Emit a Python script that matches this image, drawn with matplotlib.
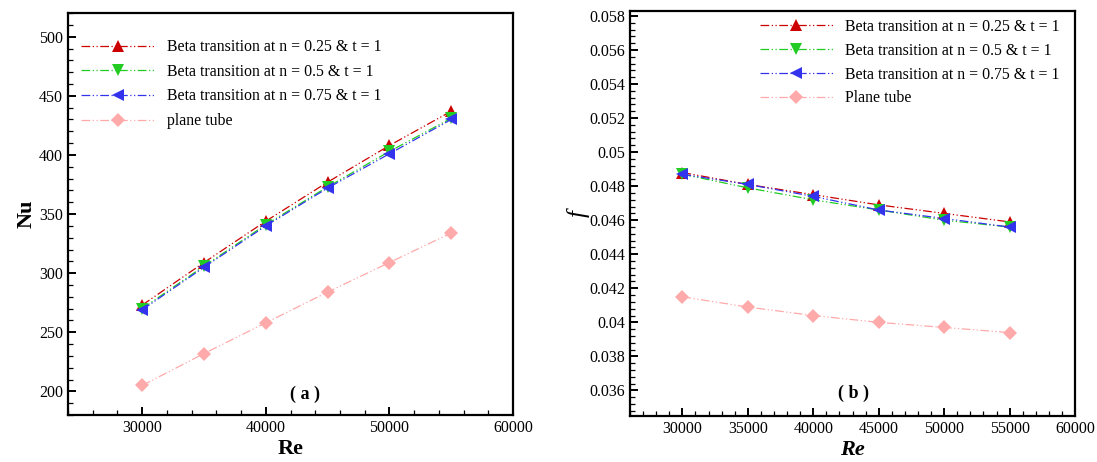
import numpy as np
import matplotlib
matplotlib.use("Agg")
import matplotlib.pyplot as plt
from matplotlib.ticker import MultipleLocator, FuncFormatter

plt.rcParams["font.family"] = ["Liberation Serif", "DejaVu Serif"]

re_vals = [30000, 35000, 40000, 45000, 50000, 55000]

# (a) Nusselt number
nu_n025 = [273, 309, 344, 377, 408, 437]
nu_n05 = [270, 306, 341, 373, 403, 431]
nu_n075 = [269, 305, 340, 372, 401, 430]
nu_plane = [205, 232, 258, 284, 309, 334]

# (b) friction factor
f_n025 = [0.0488, 0.0481, 0.0475, 0.0469, 0.0464, 0.0459]
f_n05 = [0.0487, 0.0479, 0.0472, 0.0466, 0.0460, 0.0456]
f_n075 = [0.0487, 0.0481, 0.0474, 0.0466, 0.0461, 0.0456]
f_plane = [0.0415, 0.0409, 0.0404, 0.0400, 0.0397, 0.0394]

labels_a = ["Beta transition at n = 0.25 & t = 1",
            "Beta transition at n = 0.5 & t = 1",
            "Beta transition at n = 0.75 & t = 1",
            "plane tube"]
labels_b = labels_a[:3] + ["Plane tube"]

colors = ["#cc0000", "#22cc22", "#3333ee", "#ffaaaa"]
markers = ["^", "v", "<", "D"]
msizes = [8.5, 8.5, 8.5, 7]
ls = (0, (7, 2, 1, 2, 1, 2))

fig = plt.figure(figsize=(10.97, 4.62), dpi=100)
ax1 = fig.add_axes([0.062, 0.1017, 0.4057, 0.870])
ax2 = fig.add_axes([0.5743, 0.0996, 0.4057, 0.877])


def style(ax):
    for s in ax.spines.values():
        s.set_linewidth(1.6)
    ax.tick_params(which="both", direction="in", top=False, right=False,
                   labelsize=11.5)
    ax.tick_params(which="major", length=6, width=1.4)
    ax.tick_params(which="minor", length=3.5, width=0.9)


leg_kw = dict(loc="upper left", frameon=False, fontsize=11.4, handlelength=4.6,
              borderpad=0, handletextpad=0.8)

for ys, c, m, ms, lab in zip([nu_n025, nu_n05, nu_n075, nu_plane], colors, markers, msizes, labels_a):
    ax1.plot(re_vals, ys, color=c, marker=m, markersize=ms, ls=ls, lw=0.9,
             markeredgewidth=0, label=lab)
ax1.set_xlim(24000, 60000)
ax1.set_ylim(180, 520)
ax1.xaxis.set_major_locator(MultipleLocator(10000))
ax1.xaxis.set_minor_locator(MultipleLocator(2000))
ax1.yaxis.set_major_locator(MultipleLocator(50))
ax1.yaxis.set_minor_locator(MultipleLocator(10))
style(ax1)
ax1.set_xlabel("Re", fontsize=16, fontweight="bold", labelpad=2)
ax1.set_ylabel("Nu", fontsize=16, fontweight="bold", labelpad=2)
ax1.text(0.532, 0.052, "( a )", transform=ax1.transAxes, ha="center",
         va="center", fontsize=13, fontweight="bold")
ax1.legend(bbox_to_anchor=(0.012, 0.955), labelspacing=0.55, **leg_kw)

for ys, c, m, ms, lab in zip([f_n025, f_n05, f_n075, f_plane], colors, markers, msizes, labels_b):
    ax2.plot(re_vals, ys, color=c, marker=m, markersize=ms, ls=ls, lw=0.9,
             markeredgewidth=0, label=lab)
ax2.set_xlim(26000, 60000)
ax2.set_ylim(0.0345, 0.0583)
ax2.xaxis.set_major_locator(MultipleLocator(5000))
ax2.xaxis.set_minor_locator(MultipleLocator(1000))
ax2.yaxis.set_major_locator(MultipleLocator(0.002))
ax2.yaxis.set_minor_locator(MultipleLocator(0.0004))
ax2.yaxis.set_major_formatter(FuncFormatter(lambda v, p: f"{v:.3f}".rstrip("0")))
style(ax2)
ax2.set_xlabel("Re", fontsize=16, fontweight="bold", style="italic", labelpad=2)
ax2.set_ylabel("f", fontsize=18, style="italic", labelpad=0)
ax2.text(0.503, 0.055, "( b )", transform=ax2.transAxes, ha="center",
         va="center", fontsize=13, fontweight="bold")
ax2.legend(bbox_to_anchor=(0.274, 1.0), labelspacing=0.5, **leg_kw)

fig.savefig("out.png", dpi=100)
